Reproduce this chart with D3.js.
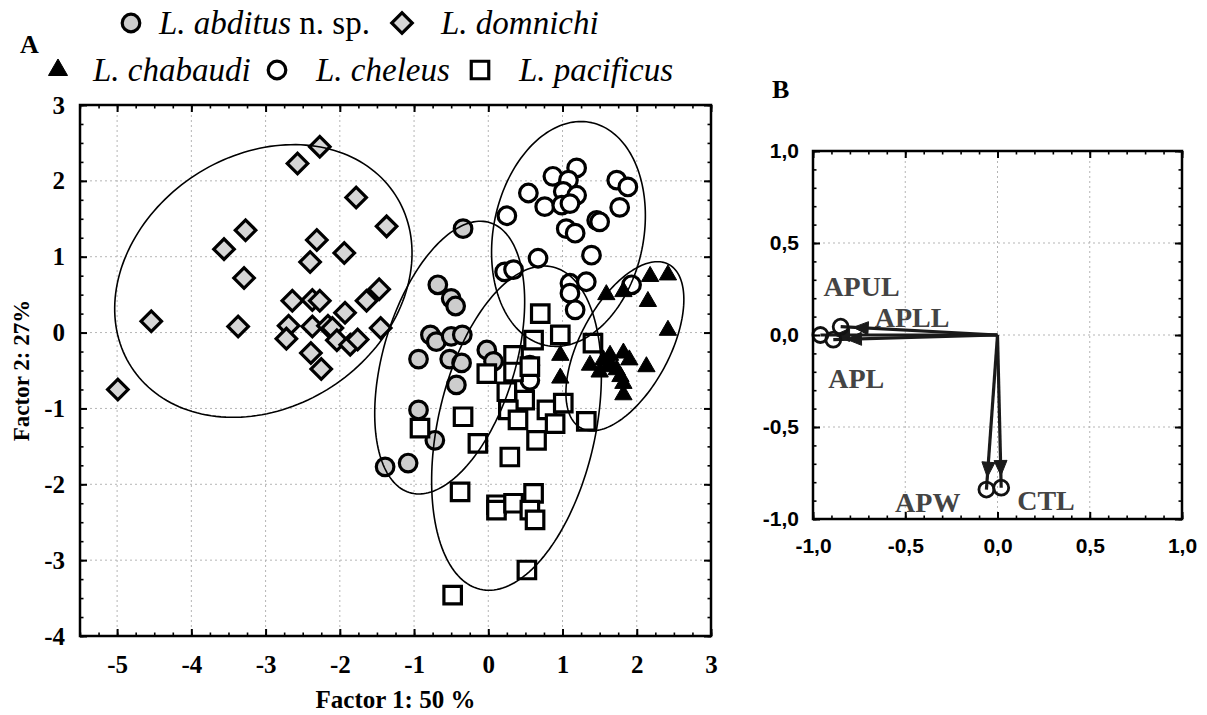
<!DOCTYPE html>
<html><head><meta charset="utf-8">
<script src="https://cdn.jsdelivr.net/npm/d3@7"></script>
<style>body{margin:0;background:#fff}svg{display:block}</style>
</head><body>
<svg id="c" width="1207" height="715"></svg>
<script>
// ================= DATA =================
const speciesNames = ["L. abditus", "L. domnichi", "L. chabaudi", "L. cheleus", "L. pacificus"];

const abditusX = [-0.34,-0.68,-0.50,-0.44,-0.78,-0.70,-0.50,-0.35,-0.94,-0.52,-0.36,-0.43,-0.02,0.07,-0.94,-0.72,-1.39,-1.08];
const abditusY = [1.37,0.63,0.45,0.35,-0.03,-0.12,-0.05,-0.03,-0.35,-0.35,-0.40,-0.69,-0.23,-0.38,-1.02,-1.42,-1.77,-1.72];

const domnichiX = [-2.27,-2.57,-1.78,-1.37,-3.27,-3.56,-2.31,-1.94,-2.40,-3.29,-2.64,-2.37,-2.27,-4.54,-3.37,-2.69,-2.37,-2.16,-2.10,-1.93,-1.64,-1.47,-1.45,-2.72,-2.04,-1.86,-1.76,-2.39,-2.25,-4.99];
const domnichiY = [2.45,2.23,1.78,1.40,1.35,1.10,1.22,1.05,0.93,0.72,0.42,0.43,0.42,0.15,0.08,0.09,0.08,0.09,0.06,0.26,0.42,0.57,0.06,-0.08,-0.10,-0.16,-0.09,-0.27,-0.48,-0.75];

const cheleusX = [1.19,0.87,1.08,1.73,1.88,0.54,1.01,1.19,0.76,0.99,1.10,1.77,0.25,1.46,1.50,1.05,1.17,1.39,0.67,0.22,0.34,1.10,1.32,1.10,1.17,1.93,0.56,0.56];
const cheleusY = [2.17,2.06,2.01,2.01,1.92,1.84,1.86,1.81,1.66,1.68,1.70,1.65,1.54,1.48,1.46,1.37,1.31,1.02,0.98,0.80,0.83,0.65,0.67,0.52,0.30,0.63,-0.43,-0.63];

const pacificusX = [0.70,0.61,0.97,1.41,0.34,-0.02,0.34,0.56,0.25,0.49,0.27,0.40,0.65,0.79,0.90,1.01,1.32,-0.92,-0.34,-0.14,0.29,-0.38,0.11,0.11,0.34,0.61,0.56,0.63,0.52,-0.48];
const pacificusY = [0.25,-0.10,-0.03,-0.14,-0.30,-0.54,-0.52,-0.45,-0.78,-0.89,-1.02,-1.15,-1.42,-1.02,-1.20,-0.93,-1.17,-1.26,-1.11,-1.46,-1.64,-2.10,-2.27,-2.34,-2.25,-2.12,-2.34,-2.47,-3.13,-3.46];

const chabaudiX = [2.18,2.42,1.59,1.82,2.15,2.42,0.97,0.97,1.37,1.55,1.64,1.82,1.73,1.82,1.82,1.50,2.13,1.65,1.90,1.78,1.60];
const chabaudiY = [0.74,0.76,0.50,0.54,0.41,0.03,-0.30,-0.60,-0.43,-0.36,-0.30,-0.27,-0.49,-0.67,-0.82,-0.52,-0.45,-0.42,-0.36,-0.58,-0.45];

// 95% ellipses: centre, semi-axes (data units), rotation (degrees)
const ellipseNames = ["L. domnichi", "L. abditus", "L. cheleus", "L. pacificus", "L. chabaudi"];
const ellipseCX = [-3.03, -0.52, 1.08, 0.38, 1.84];
const ellipseCY = [0.68, -0.33, 1.30, -1.26, -0.18];
const ellipseA  = [2.11, 1.86, 1.50, 2.18, 1.23];
const ellipseB  = [1.67, 0.89, 1.01, 1.06, 0.60];
const ellipseAngle = [31, 73, 78, 77, 61];

const xTicksA = [-5,-4,-3,-2,-1,0,1,2,3];
const yTicksA = [3,2,1,0,-1,-2,-3,-4];
const xTitleA = "Factor 1: 50 %";
const yTitleA = "Factor 2: 27%";

// Panel B: factor loadings
const variables = ["APUL", "APLL", "APL", "APW", "CTL"];
const loadX = [-0.96, -0.85, -0.89, -0.06, 0.02];
const loadY = [0.00, 0.045, -0.025, -0.84, -0.83];
const ticksB = [-1, -0.5, 0, 0.5, 1];
const tickLabelsB = ["-1,0", "-0,5", "0,0", "0,5", "1,0"];

// ================= DRAWING =================
const svg = d3.select("#c");
const serif = "'Liberation Serif','Times New Roman',serif";
const sans = "'Liberation Sans',Arial,sans-serif";

const xA = d3.scaleLinear().domain([-5.5, 3]).range([80, 711]);
const yA = d3.scaleLinear().domain([-4, 3]).range([636, 105]);
const xB = d3.scaleLinear().domain([-1, 1]).range([813, 1182]);
const yB = d3.scaleLinear().domain([-1, 1]).range([519, 151]);

function grid(x, y, gx, gy) {
  const g = svg.append("g").attr("stroke", "#b5b5b5").attr("stroke-width", 1).attr("stroke-dasharray", "2,3");
  const [X0, X1] = x.range(), [Y0, Y1] = y.range();
  g.selectAll(".vx").data(gx).join("line").attr("class","vx").attr("x1", d => x(d)).attr("x2", d => x(d)).attr("y1", Y1).attr("y2", Y0);
  g.selectAll(".hy").data(gy).join("line").attr("class","hy").attr("y1", d => y(d)).attr("y2", d => y(d)).attr("x1", X0).attr("x2", X1);
}

function axis(gen, scale, transform, values, len, width, fmt, pad, font) {
  const a = gen(scale).tickValues(values).tickSize(-len).tickPadding(pad || 3).tickFormat(fmt || "");
  const g = svg.append("g").attr("transform", transform).call(a);
  g.select(".domain").remove();
  g.selectAll("line").attr("stroke", "#000").attr("stroke-width", width);
  if (font) g.selectAll("text").attr("font-family", font.family).attr("font-size", font.size)
      .attr("font-weight", "bold").attr("fill", "#000");
  return g;
}

function frame(x, y, xMaj, xMin, yMaj, yMin, majLen, minLen, xFmt, yFmt, xPad, yPad, font) {
  const [X0, X1] = x.range(), [Y0, Y1] = y.range();
  axis(d3.axisBottom, x, `translate(0,${Y0})`, xMaj, majLen, 2, xFmt, xPad, font);
  axis(d3.axisBottom, x, `translate(0,${Y0})`, xMin, minLen, 1.6);
  axis(d3.axisTop, x, `translate(0,${Y1})`, xMaj, majLen, 2);
  axis(d3.axisTop, x, `translate(0,${Y1})`, xMin, minLen, 1.6);
  axis(d3.axisLeft, y, `translate(${X0},0)`, yMaj, majLen, 2, yFmt, yPad, font);
  axis(d3.axisLeft, y, `translate(${X0},0)`, yMin, minLen, 1.6);
  axis(d3.axisRight, y, `translate(${X1},0)`, yMaj, majLen, 2);
  axis(d3.axisRight, y, `translate(${X1},0)`, yMin, minLen, 1.6);
  svg.append("rect").attr("x", X0).attr("y", Y1).attr("width", X1 - X0).attr("height", Y0 - Y1)
    .attr("fill", "none").attr("stroke", "#000").attr("stroke-width", 2.5);
}

// ---------- Panel A ----------
grid(xA, yA, xTicksA.filter(d => d > -5.5 && d < 3), yTicksA.filter(d => d > -4 && d < 3));

const styles = {
  "L. abditus":  {shape: "circle",   fill: "#cdcdcd"},
  "L. domnichi": {shape: "diamond",  fill: "#d6d6d6"},
  "L. chabaudi": {shape: "triangle", fill: "#000"},
  "L. cheleus":  {shape: "circle",   fill: "#fff"},
  "L. pacificus":{shape: "square",   fill: "#fff"}
};
function symPath(shape, scaleF) {
  const k = scaleF || 1;
  if (shape === "circle") return d3.symbol(d3.symbolCircle, Math.PI * 8.8 * 8.8 * k * k)();
  if (shape === "diamond") return d3.symbol(d3.symbolSquare, 14.5 * 14.5 * k * k)();
  if (shape === "square") return d3.symbol(d3.symbolSquare, 17.5 * 17.5 * k * k)();
  return d3.symbol(d3.symbolTriangle, 130 * k * k)();
}
function drawMarker(g, shape, fill, px, py, k) {
  return g.append("path").attr("d", symPath(shape, k))
    .attr("transform", `translate(${px},${py})` + (shape === "diamond" ? " rotate(45)" : ""))
    .attr("fill", fill).attr("stroke", "#000")
    .attr("stroke-width", shape === "triangle" ? 1 : 3.2);
}

const series = [
  ["L. domnichi", domnichiX, domnichiY],
  ["L. abditus", abditusX, abditusY],
  ["L. cheleus", cheleusX, cheleusY],
  ["L. pacificus", pacificusX, pacificusY],
  ["L. chabaudi", chabaudiX, chabaudiY]
];
const gPts = svg.append("g");
series.forEach(([name, xs, ys]) => {
  const st = styles[name];
  xs.forEach((xv, i) => drawMarker(gPts, st.shape, st.fill, xA(xv), yA(ys[i])));
});

// ellipses
const line = d3.line().x(d => xA(d[0])).y(d => yA(d[1])).curve(d3.curveLinearClosed);
const ts = d3.range(0, 2 * Math.PI, Math.PI / 90);
ellipseNames.forEach((n, i) => {
  const th = ellipseAngle[i] * Math.PI / 180;
  const pts = ts.map(t => [
    ellipseCX[i] + ellipseA[i] * Math.cos(t) * Math.cos(th) - ellipseB[i] * Math.sin(t) * Math.sin(th),
    ellipseCY[i] + ellipseA[i] * Math.cos(t) * Math.sin(th) + ellipseB[i] * Math.sin(t) * Math.cos(th)
  ]);
  svg.append("path").attr("d", line(pts)).attr("fill", "none").attr("stroke", "#000").attr("stroke-width", 1.6);
});

frame(xA, yA, xTicksA, d3.range(-5.5, 3.001, 0.25), yTicksA, d3.range(-4, 3.001, 0.25), 7, 3.5,
  d => String(d), d => String(d), 19, 15, {family: serif, size: 25});

svg.append("text").attr("x", (xA.range()[0] + xA.range()[1]) / 2).attr("y", 708)
  .attr("text-anchor", "middle").attr("font-family", serif).attr("font-weight", "bold")
  .attr("font-size", 25).text(xTitleA);
svg.append("text").attr("transform", `translate(29,${(yA.range()[0] + yA.range()[1]) / 2}) rotate(-90)`)
  .attr("text-anchor", "middle").attr("font-family", serif).attr("font-weight", "bold")
  .attr("font-size", 23).text(yTitleA);

svg.append("text").attr("x", 20).attr("y", 53).attr("font-family", serif).attr("font-weight", "bold")
  .attr("font-size", 26).text("A");

// legend
const legendLayout = [
  {name: "L. abditus",  sx: 131, tx: 159, y: 23, extra: " n. sp."},
  {name: "L. domnichi", sx: 402, tx: 441, y: 23},
  {name: "L. chabaudi", sx: 58,  tx: 93,  y: 70},
  {name: "L. cheleus",  sx: 277, tx: 316, y: 70},
  {name: "L. pacificus",sx: 480, tx: 519, y: 70}
];
const gLeg = svg.append("g");
legendLayout.forEach(l => {
  const st = styles[l.name];
  drawMarker(gLeg, st.shape, st.fill, l.sx, l.y, st.shape === "triangle" ? 1.1 : 1);
  const t = gLeg.append("text").attr("x", l.tx).attr("y", l.y + 11)
    .attr("font-family", serif).attr("font-size", 33);
  t.append("tspan").attr("font-style", "italic").text(l.name);
  if (l.extra) t.append("tspan").text(l.extra);
});

// ---------- Panel B ----------
grid(xB, yB, [-0.5, 0, 0.5], [-0.5, 0, 0.5]);

const gArr = svg.append("g");
variables.forEach((v, i) => {
  const x0 = xB(0), y0 = yB(0), x1 = xB(loadX[i]), y1 = yB(loadY[i]);
  gArr.append("line").attr("x1", x0).attr("y1", y0).attr("x2", x1).attr("y2", y1)
    .attr("stroke", "#1a1a1a").attr("stroke-width", 3.2);
  const tipX = xB(loadX[i] * 0.92), tipY = yB(loadY[i] * 0.92);
  const ang = Math.atan2(y1 - y0, x1 - x0);
  const L = 15, W = 6.5;
  const bx = tipX - L * Math.cos(ang), by = tipY - L * Math.sin(ang);
  const pts = [[tipX, tipY],
    [bx + W * Math.sin(ang), by - W * Math.cos(ang)],
    [bx - W * Math.sin(ang), by + W * Math.cos(ang)]];
  gArr.append("path").attr("d", "M" + pts.map(p => p.join(",")).join("L") + "Z")
    .attr("fill", "#1a1a1a").attr("stroke", "#1a1a1a").attr("stroke-width", 1);
  gArr.append("circle").attr("cx", x1).attr("cy", y1).attr("r", 7.5)
    .attr("fill", "none").attr("stroke", "#111").attr("stroke-width", 2.8);
});

const labelOffset = {
  APUL: {dx: 3, dy: -39, anchor: "start"},
  APLL: {dx: 34, dy: 0, anchor: "start"},
  APL:  {dx: -5, dy: 48, anchor: "start"},
  APW:  {dx: -26, dy: 22, anchor: "end"},
  CTL:  {dx: 16, dy: 22, anchor: "start"}
};
variables.forEach((v, i) => {
  const o = labelOffset[v];
  svg.append("text").attr("x", xB(loadX[i]) + o.dx).attr("y", yB(loadY[i]) + o.dy)
    .attr("text-anchor", o.anchor).attr("font-family", serif).attr("font-weight", "bold")
    .attr("font-size", 28).attr("fill", "#444").text(v);
});

frame(xB, yB, ticksB, d3.range(-1, 1.001, 0.1), ticksB, d3.range(-1, 1.001, 0.1), 7, 3.5,
  (d, i) => tickLabelsB[i], (d, i) => tickLabelsB[i], 19, 14, {family: sans, size: 21});

svg.append("text").attr("x", 772).attr("y", 98).attr("font-family", serif).attr("font-weight", "bold")
  .attr("font-size", 26).text("B");
</script>
</body></html>
